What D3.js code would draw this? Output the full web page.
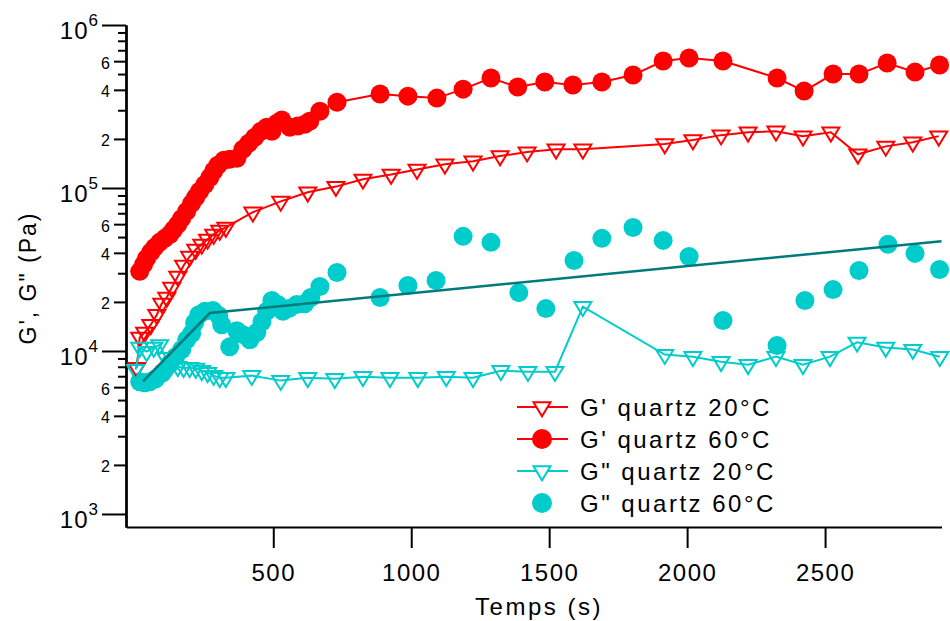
<!DOCTYPE html>
<html><head><meta charset="utf-8">
<script src="https://cdn.jsdelivr.net/npm/d3@7"></script>
<style>
body{margin:0;background:#fff}
svg{display:block}
text{font-family:"Liberation Sans",Arial,sans-serif;fill:#000}
</style>
</head><body>
<svg id="c" width="950" height="621"></svg>
<script>
// ---- data (time in s, modulus in Pa) ----
const gp20_t = [5,16,34,56,78,96,114,132,154,175,197,219,241,262,284,306,328,426,527,625,727,825,927,1021,1122,1224,1322,1420,1525,1622,1919,2021,2123,2221,2322,2420,2521,2619,2720,2818,2912];
const gp20_v = [7.9e3,1.21e4,1.30e4,1.45e4,1.67e4,1.96e4,2.13e4,2.45e4,2.87e4,3.35e4,3.80e4,4.20e4,4.51e4,4.84e4,5.19e4,5.49e4,5.73e4,7.10e4,8.28e4,9.41e4,1.02e5,1.13e5,1.21e5,1.30e5,1.40e5,1.46e5,1.57e5,1.66e5,1.73e5,1.73e5,1.86e5,1.97e5,2.11e5,2.20e5,2.23e5,2.08e5,2.20e5,1.61e5,1.80e5,1.91e5,2.08e5];

const gp60_t = [16,30,41,56,70,88,107,125,139,154,168,186,204,219,233,252,270,284,299,321,342,368,390,411,433,455,476,495,513,531,560,589,614,632,669,731,887,988,1093,1188,1289,1386,1484,1586,1691,1804,1913,2007,2130,2326,2424,2529,2623,2725,2826,2915];
const gp60_v = [3.08e4,3.40e4,3.70e4,4.03e4,4.32e4,4.64e4,4.91e4,5.19e4,5.57e4,5.98e4,6.51e4,7.19e4,8.05e4,8.77e4,9.55e4,1.05e5,1.16e5,1.27e5,1.38e5,1.48e5,1.50e5,1.52e5,1.73e5,1.88e5,2.05e5,2.23e5,2.36e5,2.23e5,2.50e5,2.61e5,2.36e5,2.40e5,2.46e5,2.57e5,2.96e5,3.36e5,3.77e5,3.66e5,3.56e5,4.04e5,4.73e5,4.16e5,4.47e5,4.28e5,4.47e5,4.93e5,6.01e5,6.27e5,6.01e5,4.73e5,3.93e5,5.00e5,5.00e5,5.84e5,5.14e5,5.68e5];

const gpp20_t = [1,16,41,67,88,110,132,154,175,197,219,241,262,284,306,328,422,527,625,723,825,923,1024,1127,1224,1325,1423,1521,1622,1919,2021,2123,2221,2322,2420,2518,2616,2720,2818,2916];
const gpp20_v = [7.68e3,1.05e4,9.9e3,1.05e4,1.09e4,9.1e3,8.2e3,8.0e3,7.9e3,7.9e3,7.8e3,7.57e3,7.36e3,7.06e3,6.86e3,6.86e3,7.06e3,6.58e3,6.86e3,6.76e3,6.95e3,6.86e3,6.86e3,6.95e3,6.86e3,7.57e3,7.47e3,7.47e3,1.87e4,9.5e3,9.23e3,8.6e3,8.24e3,9.23e3,8.24e3,9.23e3,1.13e4,1.05e4,1.02e4,9.23e3];

const gpp60_t = [16,34,52,74,99,125,146,168,186,204,215,230,252,281,302,313,342,368,390,415,440,459,476,495,516,535,556,585,614,636,669,731,887,988,1090,1188,1289,1390,1488,1590,1691,1804,1913,2007,2130,2326,2427,2529,2623,2728,2826,2915];
const gpp60_v = [6.48e3,6.39e3,6.48e3,6.76e3,7.36e3,8.36e3,9.23e3,1.02e4,1.17e4,1.28e4,1.49e4,1.67e4,1.75e4,1.77e4,1.65e4,1.45e4,1.06e4,1.33e4,1.26e4,1.17e4,1.30e4,1.51e4,1.75e4,2.04e4,1.93e4,1.75e4,1.82e4,1.93e4,1.95e4,2.13e4,2.49e4,3.03e4,2.13e4,2.52e4,2.71e4,5.05e4,4.64e4,2.28e4,1.82e4,3.59e4,4.91e4,5.73e4,4.77e4,3.80e4,1.54e4,1.08e4,2.04e4,2.38e4,3.12e4,4.51e4,3.97e4,3.16e4];

const fit_t = [28,270,2922];
const fit_v = [6.5e3,1.71e4,4.72e4];

const xTicks = [500,1000,1500,2000,2500];
const yMajor = [1e3,1e4,1e5,1e6];
const yMinorLabeled = [2e3,4e3,6e3,2e4,4e4,6e4,2e5,4e5,6e5];
const yMinorPlain = [3e3,5e3,7e3,8e3,9e3,3e4,5e4,7e4,8e4,9e4,3e5,5e5,7e5,8e5,9e5];

const legendLabels = ["G' quartz 20°C","G' quartz 60°C",'G" quartz 20°C','G" quartz 60°C'];
const xLabel = "Temps (s)";
const yLabel = 'G\', G" (Pa)';

const RED = "#ff0000", CYAN = "#00cccc", TEAL = "#007a7a";

// ---- chart ----
const svg = d3.select('#c');
const x = d3.scaleLinear().domain([-32, 2922]).range([126.5, 941.5]);
const y = d3.scaleLog().domain([832, 1e6]).range([527, 25]);

const zip = (ts, vs) => ts.map((t, i) => [t, vs[i]]);
const line = d3.line().x(d => x(d[0])).y(d => y(d[1]));
const triPath = (cx, cy) => `M${cx-8.5},${cy-4.7}L${cx+8.5},${cy-4.7}L${cx},${cy+9.3}Z`;

// axes
const ax = svg.append('g').attr('transform', 'translate(0,527)')
  .call(d3.axisBottom(x).tickValues(xTicks).tickSize(21).tickSizeOuter(0).tickFormat(d3.format('d')));
ax.select('.domain').attr('stroke', '#000').attr('stroke-width', 2);
ax.selectAll('.tick line').attr('stroke', '#000').attr('stroke-width', 2);
ax.selectAll('.tick text').attr('y', 54).attr('dy', 0)
  .style('font-size', '24px').style('letter-spacing', '1.5px')
  .style('font-family', '"Liberation Sans",Arial,sans-serif').attr('fill', '#000');

function yAxis(vals, size) {
  const g = svg.append('g').attr('transform', 'translate(126,0)')
    .call(d3.axisLeft(y).tickValues(vals).tickSize(size).tickSizeOuter(0).tickFormat(''));
  g.select('.domain').attr('stroke', '#000').attr('stroke-width', 2);
  g.selectAll('.tick line').attr('stroke', '#000').attr('stroke-width', 2);
  return g;
}
yAxis(yMajor, 24);
yAxis(yMinorLabeled, 12);
yAxis(yMinorPlain, 8);

// major labels 10^n
const ml = svg.append('g').selectAll('text').data(yMajor).join('text')
  .attr('x', 99).attr('y', d => y(d) + 14).attr('text-anchor', 'end')
  .style('font-size', '24px').style('letter-spacing', '1px');
ml.append('tspan').text('10');
ml.append('tspan').attr('dy', -13).style('font-size', '17px').text(d => Math.round(Math.log10(d)));

svg.append('g').selectAll('text').data(yMinorLabeled).join('text')
  .attr('x', 110).attr('y', d => y(d) + 7.5).attr('text-anchor', 'end')
  .style('font-size', '16px')
  .text(d => Math.round(d / Math.pow(10, Math.floor(Math.log10(d)))));

// axis titles
svg.append('text').attr('x', 539).attr('y', 615).attr('text-anchor', 'middle')
  .style('font-size', '24px').style('letter-spacing', '2.5px').text(xLabel);
svg.append('text').attr('transform', 'translate(36,278) rotate(-90)').attr('text-anchor', 'middle')
  .style('font-size', '23px').style('letter-spacing', '2px').text(yLabel);

// data
const plot = svg.append('g');
const gp60 = zip(gp60_t, gp60_v), gpp60 = zip(gpp60_t, gpp60_v);
const gp20 = zip(gp20_t, gp20_v), gpp20 = zip(gpp20_t, gpp20_v);

plot.append('path').datum(gp60).attr('d', line).attr('fill', 'none').attr('stroke', RED).attr('stroke-width', 2);
plot.append('g').selectAll('circle').data(gp60).join('circle')
  .attr('cx', d => x(d[0])).attr('cy', d => y(d[1])).attr('r', 9.5).attr('fill', RED);

plot.append('g').selectAll('circle').data(gpp60).join('circle')
  .attr('cx', d => x(d[0])).attr('cy', d => y(d[1])).attr('r', 9.5).attr('fill', CYAN);

plot.append('path').datum(gp20).attr('d', line).attr('fill', 'none').attr('stroke', RED).attr('stroke-width', 2);
plot.append('g').selectAll('path').data(gp20).join('path')
  .attr('d', d => triPath(x(d[0]), y(d[1]))).attr('fill', 'none').attr('stroke', RED).attr('stroke-width', 2);

plot.append('path').datum(gpp20).attr('d', line).attr('fill', 'none').attr('stroke', CYAN).attr('stroke-width', 2);
plot.append('g').selectAll('path').data(gpp20).join('path')
  .attr('d', d => triPath(x(d[0]), y(d[1]))).attr('fill', 'none').attr('stroke', CYAN).attr('stroke-width', 2);

plot.append('path').datum(zip(fit_t, fit_v)).attr('d', line).attr('fill', 'none').attr('stroke', TEAL).attr('stroke-width', 2.5);

// legend
const legendColors = [RED, RED, CYAN, CYAN];
const legendMarker = ['tri', 'circle', 'tri', 'circle'];
const legendLine = [true, true, true, false];
const lg = svg.append('g');
legendLabels.forEach((lab, i) => {
  const cy = 407 + i * 32;
  if (legendLine[i]) lg.append('line').attr('x1', 517).attr('x2', 568).attr('y1', cy).attr('y2', cy)
    .attr('stroke', legendColors[i]).attr('stroke-width', 2);
  if (legendMarker[i] === 'tri') lg.append('path').attr('d', triPath(542, cy)).attr('fill', '#fff')
    .attr('stroke', legendColors[i]).attr('stroke-width', 2);
  else lg.append('circle').attr('cx', 542).attr('cy', cy).attr('r', 10).attr('fill', legendColors[i]);
  lg.append('text').attr('x', 580).attr('y', cy + 8.5).style('font-size', '24px').style('letter-spacing', '2.5px').text(lab);
});
</script>
</body></html>
